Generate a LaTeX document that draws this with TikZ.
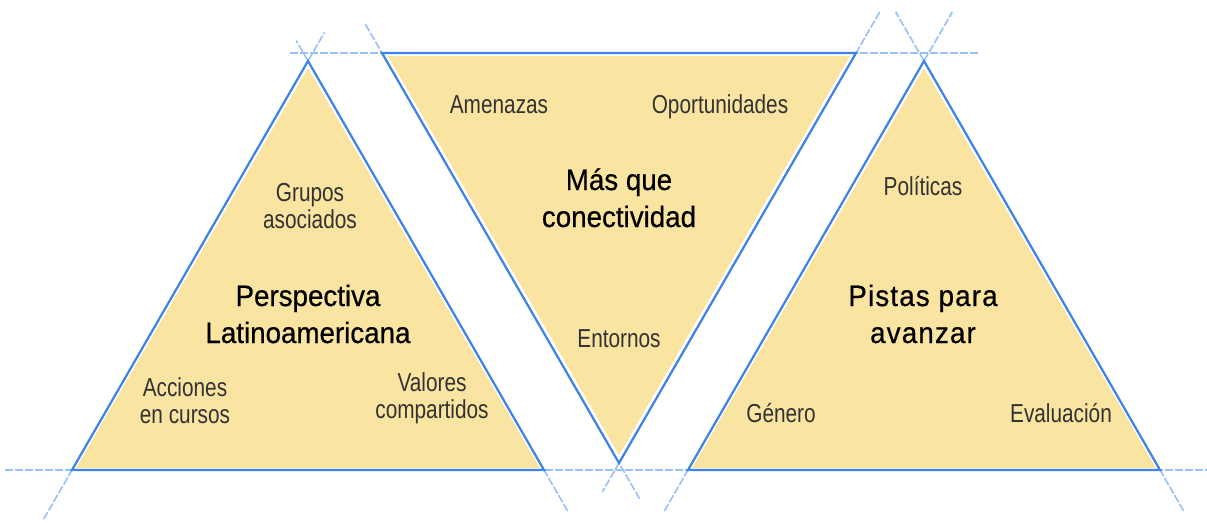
\documentclass[tikz,border=0pt]{standalone}
\usepackage{fontspec}
\setmainfont{Liberation Sans}
\newfontfamily\titlefont[FakeStretch=0.94,FakeBold=0.6]{Liberation Sans}
\newfontfamily\spacedtitlefont[FakeStretch=0.94,FakeBold=0.6,LetterSpace=4]{Liberation Sans}
\newfontfamily\labelfont[FakeStretch=0.8]{Liberation Sans}
\usetikzlibrary{calc}
\definecolor{edgeblue}{RGB}{62,132,232}
\definecolor{faintblue}{RGB}{150,192,246}
\definecolor{fillyellow}{RGB}{250,228,162}
\definecolor{labelgray}{RGB}{50,50,50}
\tikzset{
  edge/.style={draw=edgeblue, line width=2.2pt},
  faint/.style={draw=faintblue, line width=1.6pt, dash pattern=on 8pt off 2pt},
  tri/.style={fill=fillyellow},
  title/.style={font=\titlefont\fontsize{29.5}{37}\selectfont, text=black, align=center, anchor=base, inner sep=0pt},
  spacedtitle/.style={title, font=\spacedtitlefont\fontsize{29.5}{37}\selectfont},
  lbl/.style={font=\labelfont\fontsize{26}{27}\selectfont, text=labelgray, align=center, anchor=base, inner sep=0pt}
}
\begin{document}
\begin{tikzpicture}[x=1pt,y=-1pt]
\useasboundingbox (0,0) rectangle (1207,523);
% vertices
\coordinate (L1) at (72,470);
\coordinate (L2) at (544,470);
\coordinate (L3) at (308,61);
\coordinate (M1) at (382,53);
\coordinate (M2) at (856,53);
\coordinate (M3) at (619,463);
\coordinate (R1) at (688,470);
\coordinate (R2) at (1160,470);
\coordinate (R3) at (924,61);
\coordinate (HB1) at (5,470);
\coordinate (HB2) at (1207,470);
\coordinate (HT1) at (290,53);
\coordinate (HT2) at (980,53);
% fills
\fill[tri] (76,468) -- (540,468) -- (308,68) -- cycle;
\fill[tri] (388,56) -- (850,56) -- (619,455) -- cycle;
\fill[tri] (692,468) -- (1156,468) -- (924,68) -- cycle;
% faint extension lines
\draw[faint] (HB1) -- (HB2);
\draw[faint] (HT1) -- (HT2);
\draw[faint] ($(L1)!-0.12!(L3)$) -- ($(L3)!-0.07!(L1)$);
\draw[faint] ($(L2)!-0.10!(L3)$) -- ($(L3)!-0.05!(L2)$);
\draw[faint] ($(M1)!-0.07!(M3)$) -- ($(M3)!-0.09!(M1)$);
\draw[faint] ($(M2)!-0.10!(M3)$) -- ($(M3)!-0.07!(M2)$);
\draw[faint] ($(R1)!-0.10!(R3)$) -- ($(R3)!-0.12!(R1)$);
\draw[faint] ($(R2)!-0.10!(R3)$) -- ($(R3)!-0.12!(R2)$);
% edges
\draw[edge] (L1) -- (L2) -- (L3) -- cycle;
\draw[edge] (M1) -- (M2) -- (M3) -- cycle;
\draw[edge] (R1) -- (R2) -- (R3) -- cycle;
% texts (base anchor = baseline of last line)
\node[title] (tL) at (308,343) {Perspectiva\\Latinoamericana};
\node[title] (tM) at (619,227) {Más que\\conectividad};
\node[spacedtitle] (tR) at (923,343) {Pistas para\\avanzar};
\node[lbl] (grupos) at (310,228) {Grupos\\asociados};
\node[lbl] (acciones) at (185,423) {Acciones\\en cursos};
\node[lbl] (valores) at (432,418) {Valores\\compartidos};
\node[lbl] (amenazas) at (499,113) {Amenazas};
\node[lbl] (oport) at (720,113) {Oportunidades};
\node[lbl] (entornos) at (619,347) {Entornos};
\node[lbl] (politicas) at (923,195) {Políticas};
\node[lbl] (genero) at (781,422) {Género};
\node[lbl] (evaluacion) at (1061,422) {Evaluación};
\end{tikzpicture}
\end{document}
